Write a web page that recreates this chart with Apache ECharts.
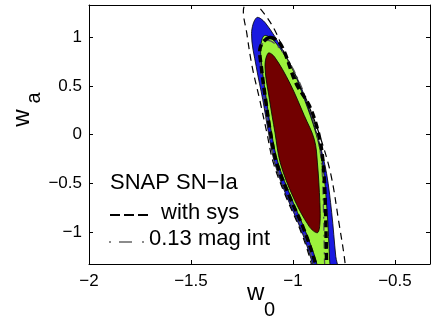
<!DOCTYPE html>
<html>
<head>
<meta charset="utf-8">
<script src="https://cdn.jsdelivr.net/npm/echarts@6/dist/echarts.min.js"></script>
<style>
  html, body { margin: 0; padding: 0; background: #fff; }
  #chart { width: 436px; height: 325px; }
</style>
</head>
<body>
<div id="chart"></div>
<script>
// axis ranges
var w0Range = [-2, -0.328];
var waRange = [-1.33, 1.335];

// contour outlines, [w0, wa]
var blueFill = [
  [-1.178, 1.205], [-1.135, 1.15], [-1.05, 0.87], [-0.968, 0.53], [-0.91, 0.19],
  [-0.868, -0.10], [-0.835, -0.40], [-0.81, -0.80], [-0.79, -1.25], [-0.775, -1.50],
  [-0.89, -1.50], [-0.908, -1.30], [-0.962, -0.97], [-1.032, -0.63], [-1.09, -0.29],
  [-1.12, 0.02], [-1.148, 0.36], [-1.18, 0.70], [-1.203, 1.04]
];
var greenFill = [
  [-1.14, 1.02], [-1.09, 0.96], [-1.008, 0.70], [-0.943, 0.36], [-0.888, 0.02],
  [-0.855, -0.29], [-0.832, -0.80], [-0.82, -1.30], [-0.815, -1.50], [-0.87, -1.50],
  [-0.886, -1.30], [-0.943, -0.97], [-1.012, -0.63], [-1.073, -0.29], [-1.105, 0.02],
  [-1.13, 0.36], [-1.152, 0.70], [-1.158, 0.90]
];
var redFill = [
  [-1.121, 0.84], [-1.09, 0.80], [-1.015, 0.53], [-0.945, 0.20], [-0.895, -0.05],
  [-0.88, -0.29], [-0.868, -0.70], [-0.868, -0.92], [-0.88, -1.008], [-0.92, -0.945],
  [-1.0, -0.636], [-1.062, -0.29], [-1.088, 0.02], [-1.115, 0.36], [-1.137, 0.70]
];
var sysOuter = [
  [-1.205, 1.37], [-1.165, 1.31], [-1.09, 1.08], [-1.015, 0.70], [-0.935, 0.36],
  [-0.87, 0.0], [-0.815, -0.40], [-0.775, -0.90], [-0.745, -1.31], [-0.74, -1.50],
  [-0.9, -1.50], [-0.912, -1.31], [-0.966, -0.97], [-1.036, -0.63], [-1.096, -0.29],
  [-1.128, 0.02], [-1.163, 0.36], [-1.2, 0.70], [-1.226, 1.04], [-1.242, 1.30]
];
var sysInner = [
  [-1.115, 1.0], [-1.06, 0.93], [-0.985, 0.53], [-0.92, 0.30], [-0.875, 0.02],
  [-0.852, -0.29], [-0.84, -0.80], [-0.835, -1.31], [-0.83, -1.50], [-0.87, -1.50],
  [-0.892, -1.31], [-0.947, -0.97], [-1.018, -0.63], [-1.08, -0.29], [-1.11, 0.02],
  [-1.134, 0.36], [-1.155, 0.70], [-1.16, 0.90]
];
var magInt = [
  [-1.125, 0.97], [-1.07, 0.90], [-1.0, 0.68], [-0.93, 0.34], [-0.884, 0.02],
  [-0.86, -0.29], [-0.85, -0.80], [-0.845, -1.31], [-0.84, -1.50], [-0.88, -1.50],
  [-0.9, -1.31], [-0.953, -0.97], [-1.024, -0.63], [-1.086, -0.29], [-1.116, 0.02],
  [-1.14, 0.36], [-1.158, 0.70], [-1.163, 0.88]
];

var FONT = '"Liberation Sans", Arial, sans-serif';

function minus(v) {
  return String(v).replace('-', '\u2212');
}

function contour(pts, style, z) {
  return {
    type: 'custom',
    coordinateSystem: 'cartesian2d',
    clip: true,
    silent: true,
    z: z,
    data: pts,
    renderItem: function (params, api) {
      if (params.dataIndex !== 0) return null;
      var p = pts.map(function (d) { return api.coord(d); });
      return { type: 'polygon', shape: { points: p, smooth: 0.35 }, style: style };
    }
  };
}

var myChart = echarts.init(document.getElementById('chart'));

var axisCommon = {
  type: 'value',
  splitLine: { show: false },
  axisLine: { show: true, onZero: false, lineStyle: { color: '#000', width: 1 } },
  axisTick: { show: true, inside: true, length: 4, lineStyle: { color: '#000' } }
};

var option = {
  animation: false,
  grid: { left: 89, right: 6, top: 5, bottom: 61 }
};

option.xAxis = [
  Object.assign({}, axisCommon, {
    position: 'bottom', min: w0Range[0], max: w0Range[1], interval: 0.5,
    axisLabel: { color: '#000', fontSize: 17, fontFamily: FONT, margin: 9,
      showMaxLabel: false, formatter: minus }
  }),
  Object.assign({}, axisCommon, {
    position: 'top', min: w0Range[0], max: w0Range[1], interval: 0.5,
    axisLabel: { show: false }
  })
];
option.yAxis = [
  Object.assign({}, axisCommon, {
    position: 'left', min: waRange[0], max: waRange[1], splitNumber: 5,
    axisLabel: { color: '#000', fontSize: 17, fontFamily: FONT, margin: 7,
      showMinLabel: false, showMaxLabel: false, formatter: minus }
  }),
  Object.assign({}, axisCommon, {
    position: 'right', min: waRange[0], max: waRange[1], splitNumber: 5,
    axisLabel: { show: false }
  })
];

option.series = [
  contour(blueFill, { fill: '#1a1ae0', stroke: '#000', lineWidth: 0.8 }, 1),
  contour(greenFill, { fill: '#9cf23c', stroke: '#000', lineWidth: 0.8 }, 2),
  contour(redFill, { fill: '#720000', stroke: '#000', lineWidth: 0.8 }, 3),
  contour(magInt, { fill: 'none', stroke: '#555', lineWidth: 1.3, lineDash: [8, 4, 2, 4] }, 4),
  contour(sysInner, { fill: 'none', stroke: '#000', lineWidth: 3.5, lineDash: [7, 4] }, 5),
  contour(sysOuter, { fill: 'none', stroke: '#000', lineWidth: 1.2, lineDash: [7, 5] }, 6)
];

option.graphic = [
  // axis titles
  { type: 'text', x: 247, y: 305, style: { text: 'w', font: '24px ' + FONT, fill: '#000', verticalAlign: 'bottom' } },
  { type: 'text', x: 264, y: 320, style: { text: '0', font: '20px ' + FONT, fill: '#000', verticalAlign: 'bottom' } },
  { type: 'text', x: 22, y: 118, rotation: Math.PI / 2,
    style: { text: 'w', font: '24px ' + FONT, fill: '#000', align: 'center', verticalAlign: 'middle' } },
  { type: 'text', x: 34, y: 98, rotation: Math.PI / 2,
    style: { text: 'a', font: '20px ' + FONT, fill: '#000', align: 'center', verticalAlign: 'middle' } },
  // legend
  { type: 'text', x: 110, y: 183, style: { text: 'SNAP SN\u2212Ia', font: '22px ' + FONT, fill: '#000', verticalAlign: 'middle' } },
  { type: 'line', shape: { x1: 110, y1: 215, x2: 148, y2: 215 },
    style: { stroke: '#000', lineWidth: 2, lineDash: [10, 4] } },
  { type: 'text', x: 161, y: 213, style: { text: 'with sys', font: '22px ' + FONT, fill: '#000', verticalAlign: 'middle' } },
  { type: 'line', shape: { x1: 109, y1: 242, x2: 147, y2: 242 },
    style: { stroke: '#666', lineWidth: 1.5, lineDash: [2, 8, 13, 10, 2, 8] } },
  { type: 'text', x: 149, y: 239, style: { text: '0.13 mag int', font: '22px ' + FONT, fill: '#000', verticalAlign: 'middle' } }
];

myChart.setOption(option);
</script>
</body>
</html>
